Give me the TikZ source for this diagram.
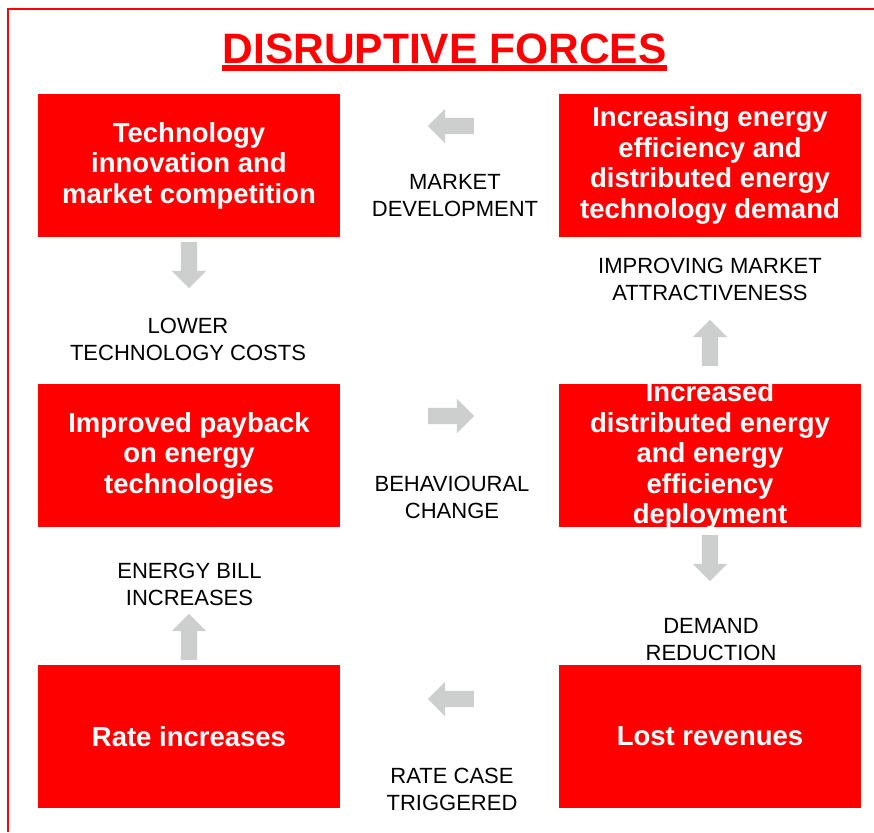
\documentclass[tikz,border=0pt]{standalone}
\usepackage{xcolor}
\usepackage{fontspec}
\setmainfont{Liberation Sans}
\usepackage{tikz}
\usetikzlibrary{shapes.arrows}

\definecolor{boxred}{RGB}{255,0,0}
\definecolor{arrowgray}{RGB}{205,207,207}

\begin{document}
\begin{tikzpicture}[x=1pt, y=-1pt,
    box/.style={rectangle, fill=boxred, minimum width=302pt, minimum height=143pt, inner sep=0pt},
    boxtext/.style={text=white, align=center, inner sep=0pt, font=\bfseries\fontsize{27.5}{30.5}\selectfont},
    steplabel/.style={align=center, inner sep=0pt, font=\fontsize{22}{27}\selectfont},
    grayarrow/.style={single arrow, fill=arrowgray, minimum height=46pt, inner sep=8pt,
      single arrow head extend=9pt}]
          \useasboundingbox (0,0) rectangle (874,832);
          \draw[boxred, line width=2pt] (8,832) -- (8,9) -- (874,9);

          \node[anchor=base, text=boxred, inner sep=0pt, font=\bfseries\fontsize{42.5}{42.5}\selectfont] (title) at (444.5,64) {DISRUPTIVE FORCES};
          \fill[boxred] ([yshift=-1pt]title.base west) rectangle ([yshift=-7pt]title.base east);

          \node[box, boxtext] (tech) at (189,165.5) {Technology\\innovation and\\market competition};
          \node[box, boxtext] (demand) at (710,165.5) {Increasing energy\\efficiency and\\distributed energy\\technology demand};
          \node[box, boxtext] (payback) at (189,455.5) {Improved payback\\on energy\\technologies};
          \node[box] (deploy) at (710,455.5) {};
          \node[boxtext] (deploytext) at (deploy.center) {Increased\\distributed energy\\and energy\\efficiency\\deployment};
          \node[box, boxtext] (rates) at (189,736.5) {Rate increases};
          \node[box, boxtext] (revenues) at (710,736.5) {Lost revenues};

          \foreach \x/\y/\r [count=\i] in {455/126/180, 189/261/270, 710/347/90, 447/416/0, 710/554/270, 189/641/90, 455/699/180}{%
            \node[grayarrow, shape border rotate=\r] (arrow\i) at (\x,\y) {};
          }

          \foreach \x/\y/\t [count=\i] in {455/195.5/MARKET\\DEVELOPMENT, 188/339.5/LOWER\\TECHNOLOGY COSTS,
              710/279.5/IMPROVING MARKET\\ATTRACTIVENESS, 452/497/BEHAVIOURAL\\CHANGE,
              711/640/DEMAND\\REDUCTION, 189.5/584/ENERGY BILL\\INCREASES, 452/789/RATE CASE\\TRIGGERED}{%
            \node[steplabel] (label\i) at (\x,\y) {\t};
          }
        \end{tikzpicture}
\end{document}
